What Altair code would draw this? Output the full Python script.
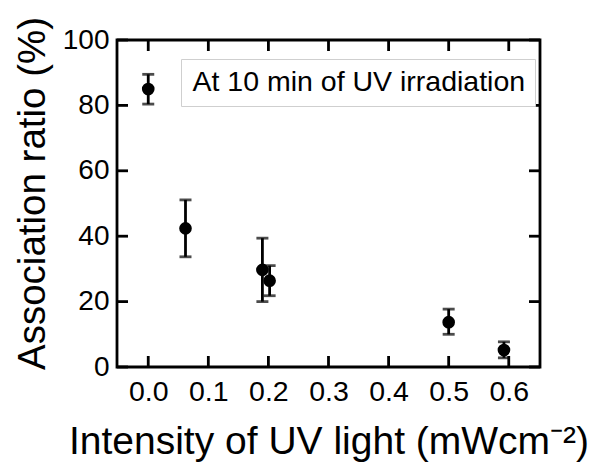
import altair as alt
import pandas as pd
from altair.utils.schemapi import SchemaValidationError

# Data
intensity = [0.0, 0.062, 0.19, 0.202, 0.5, 0.592]
ratio = [85.0, 42.4, 29.7, 26.4, 13.7, 5.2]
err_low = [80.4, 33.7, 20.0, 21.8, 10.0, 2.8]
err_high = [89.5, 51.1, 39.4, 31.0, 17.7, 7.7]
x_ticks = [0.0, 0.1, 0.2, 0.3, 0.4, 0.5, 0.6]
y_ticks = [0, 20, 40, 60, 80, 100]
legend_label = "At 10 min of UV irradiation"

W, H = 423, 327
TL = 11  # inward tick length
LW = 2.8

df = pd.DataFrame({
    "x": intensity,
    "y": ratio,
    "lo": err_low,
    "hi": err_high,
    "series": [legend_label] * len(intensity),
})
dfx = pd.DataFrame({"x": x_ticks})
dfy = pd.DataFrame({"y": y_ticks})

xscale = alt.Scale(domain=[-0.052, 0.652], nice=False, zero=False)
yscale = alt.Scale(domain=[0, 100], nice=False)

x_axis = alt.Axis(values=x_ticks, format=".1f", ticks=False, domain=False, grid=False,
                  labelFontSize=28.5, labelPadding=10, labelColor="black",
                  title="Intensity of UV light (mWcm⁻²)", titleFontSize=39,
                  titlePadding=17, titleFontWeight="normal", titleColor="black")
y_axis = alt.Axis(values=y_ticks, ticks=False, domain=False, grid=False,
                  labelFontSize=28, labelPadding=8, labelColor="black",
                  title="Association ratio (%)", titleFontSize=38.5, titleY=153,
                  titlePadding=10, titleFontWeight="normal", titleColor="black")

X = lambda f: alt.X(f, scale=xscale, axis=x_axis)
Y = lambda f: alt.Y(f, scale=yscale, axis=y_axis)

leg_kw = dict(title=None, orient="none", legendX=64, legendY=19,
              symbolOpacity=0, symbolSize=0, symbolStrokeWidth=0,
              labelFontSize=28.5, labelColor="black", labelLimit=0, labelOffset=0,
              strokeColor="#cfcfcf", fillColor="white", padding=9)
try:
    legend = alt.Legend(symbolOffset=-26, **leg_kw)
except SchemaValidationError:
    legend = alt.Legend(**leg_kw)

base = alt.Chart(df)

points = base.mark_circle(size=160, opacity=1).encode(
    x=X("x:Q"),
    y=Y("y:Q"),
    color=alt.Color("series:N", scale=alt.Scale(range=["black"]), legend=legend),
)

bars = base.mark_rule(color="black", strokeWidth=LW).encode(
    x=X("x:Q"), y=Y("lo:Q"), y2="hi:Q",
)
cap_lo = base.mark_tick(color="black", thickness=LW, size=12, orient="horizontal").encode(
    x=X("x:Q"), y=Y("lo:Q"),
)
cap_hi = base.mark_tick(color="black", thickness=LW, size=12, orient="horizontal").encode(
    x=X("x:Q"), y=Y("hi:Q"),
)

xt_bottom = alt.Chart(dfx).mark_rule(color="black", strokeWidth=LW).encode(
    x=X("x:Q"), y=alt.value(H), y2=alt.value(H - TL))
xt_top = alt.Chart(dfx).mark_rule(color="black", strokeWidth=LW).encode(
    x=X("x:Q"), y=alt.value(0), y2=alt.value(TL))
yt_left = alt.Chart(dfy).mark_rule(color="black", strokeWidth=LW).encode(
    y=Y("y:Q"), x=alt.value(0), x2=alt.value(TL))
yt_right = alt.Chart(dfy).mark_rule(color="black", strokeWidth=LW).encode(
    y=Y("y:Q"), x=alt.value(W), x2=alt.value(W - TL))

chart = alt.layer(
    points, bars, cap_lo, cap_hi, xt_bottom, xt_top, yt_left, yt_right
).properties(
    width=W, height=H,
    autosize=alt.AutoSizeParams(type="none"),
    padding={"left": 109, "top": 32, "right": 50, "bottom": 98},
).configure(
    font="Liberation Sans",
).configure_view(
    stroke="black", strokeWidth=LW,
)

chart.save("out.html", embed_options={"renderer": "svg", "actions": False})
